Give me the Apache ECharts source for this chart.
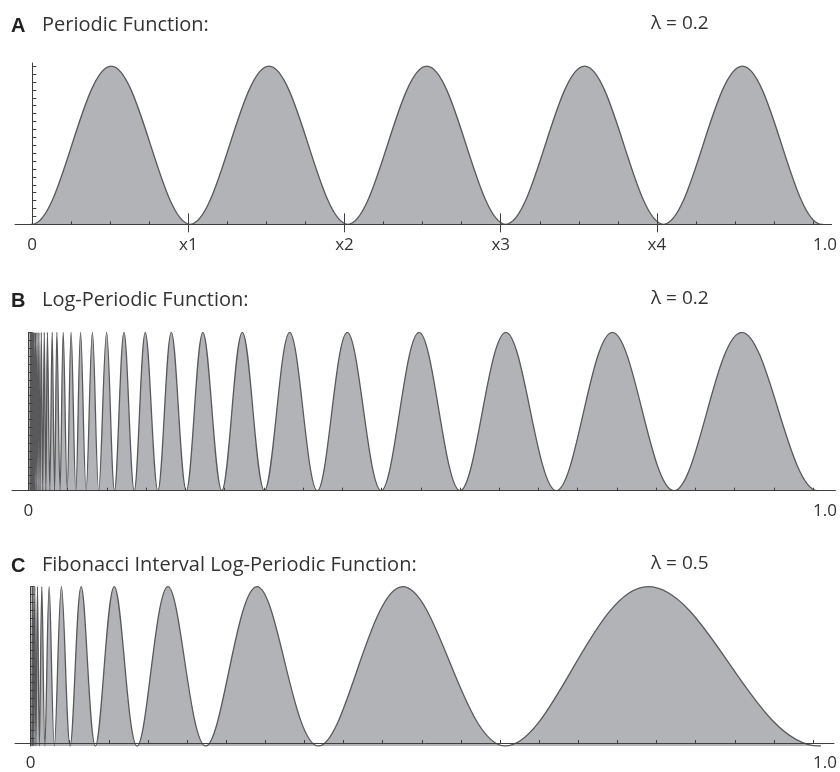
<!DOCTYPE html>
<html>
<head>
<meta charset="utf-8">
<script src="https://cdn.jsdelivr.net/npm/echarts@6/dist/echarts.min.js"></script>
<style>
  html, body { margin: 0; padding: 0; background: #fff; }
  #chart { width: 840px; height: 772px; }
</style>
</head>
<body>
<div id="chart"></div>
<script>
// ---- data ----
const peakLevel = 1.0;
const troughLevel = 0.0;

// Panel A: periodic function, zeros and maxima (plus the next maxima just outside the view)
const A_troughs = [0, 0.2, 0.4, 0.6, 0.8, 1.0];
const A_peaks = [-0.1, 0.1, 0.3, 0.5, 0.7, 0.9, 1.1];
const A_tickValues = [0, 0.2, 0.4, 0.6, 0.8, 1.0];
const A_tickLabels = ['0', 'x1', 'x2', 'x3', 'x4', '1.0'];

// Panel B: log-periodic function, zeros and maxima
const B_troughs = [1.0, 0.818, 0.669, 0.547, 0.447, 0.366, 0.299, 0.245, 0.200, 0.164, 0.134, 0.109,
  0.089, 0.073, 0.060, 0.049, 0.040, 0.033, 0.027, 0.022, 0.018, 0.0146, 0.0120, 0.0098, 0.0080,
  0.0065, 0.0053, 0.0044, 0.0036, 0.0029, 0.0024, 0.0019];
const B_peaks = [1.106, 0.904, 0.740, 0.605, 0.495, 0.404, 0.331, 0.271, 0.221, 0.181, 0.148, 0.121, 0.099,
  0.081, 0.066, 0.054, 0.044, 0.036, 0.030, 0.024, 0.020, 0.0162, 0.0132, 0.0108, 0.0089, 0.0072,
  0.0059, 0.0048, 0.0040, 0.0032, 0.0026, 0.0021];

// Panel C: Fibonacci interval log-periodic function, zeros and maxima
const C_troughs = [1.0, 0.602, 0.365, 0.222, 0.135, 0.082, 0.050, 0.030, 0.018, 0.011, 0.0066, 0.0040, 0.0024, 0.0015];
const C_peaks = [1.28, 0.783, 0.472, 0.287, 0.174, 0.106, 0.064, 0.039, 0.0234, 0.0141, 0.0086, 0.0052, 0.0031, 0.0019];

const edgeTickValues = [0, 1.0];
const edgeTickLabels = ['0', '1.0'];
const minorTickValues = [0.05, 0.1, 0.15, 0.25, 0.3, 0.35, 0.45, 0.5, 0.55, 0.65, 0.7, 0.75, 0.85, 0.9, 0.95, 1.0];
const majorTickValuesA = [0.2, 0.4, 0.6, 0.8];
const allTickValues = [0.05, 0.1, 0.15, 0.2, 0.25, 0.3, 0.35, 0.4, 0.45, 0.5, 0.55, 0.6, 0.65, 0.7, 0.75, 0.8, 0.85, 0.9, 0.95, 1.0];
const yTickValues = [0.05, 0.1, 0.15, 0.2, 0.25, 0.3, 0.35, 0.4, 0.45, 0.5, 0.55, 0.6, 0.65, 0.7, 0.75, 0.8, 0.85, 0.9, 0.95, 1.0];

const panelLetters = ['A', 'B', 'C'];
const panelTitles = ['Periodic Function:', 'Log-Periodic Function:', 'Fibonacci Interval Log-Periodic Function:'];
const panelLambdas = ['λ = 0.2', 'λ = 0.2', 'λ = 0.5'];

// ---- build series points ----
function humps(troughs, peaks) {
  const pts = [];
  troughs.forEach(t => pts.push([t, troughLevel]));
  peaks.forEach(p => pts.push([p, peakLevel]));
  pts.sort((a, b) => a[0] - b[0]);
  return pts;
}

const AXIS_COLOR = '#3f3f3f';
const TEXT_COLOR = '#333';
const FONT = 'Open Sans';

function labelFormatter(values, labels) {
  return function (v) {
    const i = values.findIndex(t => Math.abs(t - v) < 1e-9);
    return i >= 0 ? labels[i] : '';
  };
}

function hiddenX(gridIndex, min, max) {
  return {
    type: 'value', gridIndex, min, max, position: 'bottom', z: 5,
    splitLine: { show: false },
    axisLine: { show: false, onZero: false },
    axisTick: { show: false },
    axisLabel: { show: false }
  };
}

function labelAxis(gridIndex, min, max, values, labels, outsideTicks) {
  const a = hiddenX(gridIndex, min, max);
  a.axisLine = { show: true, onZero: false, lineStyle: { color: AXIS_COLOR, width: 1 } };
  a.axisLabel = {
    show: true, customValues: values, formatter: labelFormatter(values, labels),
    color: TEXT_COLOR, fontFamily: FONT, fontSize: 17, margin: 12, alignMaxLabel: 'left'
  };
  if (outsideTicks) {
    a.axisTick = { show: true, customValues: outsideTicks, inside: false, length: 8,
      lineStyle: { color: AXIS_COLOR, width: 1 } };
  }
  return a;
}

function tickAxis(gridIndex, min, max, values, length) {
  const a = hiddenX(gridIndex, min, max);
  a.axisTick = { show: true, customValues: values, inside: true, length,
    lineStyle: { color: AXIS_COLOR, width: 1 } };
  return a;
}

function hiddenY(gridIndex, max) {
  return {
    type: 'value', gridIndex, min: 0, max,
    splitLine: { show: false }, axisLine: { show: false },
    axisTick: { show: false }, axisLabel: { show: false }
  };
}

function plotY(gridIndex, max) {
  return {
    type: 'value', gridIndex, min: 0, max, z: 5,
    splitLine: { show: false },
    axisLine: { show: true, onZero: false, lineStyle: { color: AXIS_COLOR, width: 1 } },
    axisTick: { show: true, customValues: yTickValues, inside: true, length: 4,
      lineStyle: { color: AXIS_COLOR, width: 1 } },
    axisLabel: { show: false }
  };
}

// axis grids (wide, for the long axis lines) and plot grids (x from 0 to 1)
const xr = {
  A: [-0.02193, 1.0237],
  B: [-0.02091, 1.02852],
  C: [-0.01992, 1.02664]
};

const xAxes = [
  labelAxis(0, xr.A[0], xr.A[1], A_tickValues, A_tickLabels, majorTickValuesA), // 0
  tickAxis(0, xr.A[0], xr.A[1], majorTickValuesA, 11),                          // 1
  tickAxis(0, xr.A[0], xr.A[1], minorTickValues, 3),                            // 2
  hiddenX(1, 0, 1),                                                              // 3
  labelAxis(2, xr.B[0], xr.B[1], edgeTickValues, edgeTickLabels, null),         // 4
  tickAxis(2, xr.B[0], xr.B[1], allTickValues, 3),                              // 5
  hiddenX(3, 0, 1),                                                              // 6
  labelAxis(4, xr.C[0], xr.C[1], edgeTickValues, edgeTickLabels, null),         // 7
  tickAxis(4, xr.C[0], xr.C[1], allTickValues, 3),                              // 8
  hiddenX(5, 0, 1)                                                               // 9
];

const yAxes = [
  hiddenY(0, 1.02), plotY(1, 1.02),
  hiddenY(2, 1.0), plotY(3, 1.0),
  hiddenY(4, 1.0), plotY(5, 1.0)
];

function seriesFor(xAxisIndex, yAxisIndex, data) {
  return {
    type: 'line', xAxisIndex, yAxisIndex, data,
    smooth: 0.36, showSymbol: false, symbol: 'none', silent: true, clip: true,
    lineStyle: { color: '#59595b', width: 1.3 },
    areaStyle: { color: '#b2b3b7', opacity: 1 },
    z: 2
  };
}

const titleTops = [15, 290, 555];
const lambdaTops = [14, 289, 554];
const title = [];
panelLetters.forEach((letter, i) => {
  title.push({
    left: 11, top: titleTops[i] + 1, padding: 0, text: letter,
    textStyle: { fontFamily: 'Liberation Sans', fontWeight: 'bold', fontSize: 20, color: '#222' }
  });
  title.push({
    left: 42, top: titleTops[i], padding: 0, text: panelTitles[i],
    textStyle: { fontFamily: FONT, fontWeight: 'normal', fontSize: 20, color: TEXT_COLOR }
  });
  title.push({
    left: 651, top: lambdaTops[i], padding: 0, text: panelLambdas[i],
    textStyle: { fontFamily: FONT, fontWeight: 'normal', fontSize: 19, color: TEXT_COLOR }
  });
});

const option = {
  animation: false,
  backgroundColor: '#ffffff',
  title,
  grid: [
    { left: 15, width: 825, top: 63, height: 161.3 },
    { left: 32.3, width: 789, top: 63, height: 161.3 },
    { left: 12, width: 828, top: 332.3, height: 158.4 },
    { left: 28.5, width: 789, top: 332.3, height: 158.4 },
    { left: 15, width: 825, top: 586.7, height: 159.3 },
    { left: 30.7, width: 788.3, top: 586.7, height: 159.3 }
  ],
  xAxis: xAxes,
  yAxis: yAxes,
  series: [
    seriesFor(3, 1, humps(A_troughs, A_peaks)),
    seriesFor(6, 3, humps(B_troughs, B_peaks)),
    seriesFor(9, 5, humps(C_troughs, C_peaks))
  ]
};

const chart = echarts.init(document.getElementById('chart'), null, { renderer: 'canvas' });
chart.setOption(option);
</script>
</body>
</html>
